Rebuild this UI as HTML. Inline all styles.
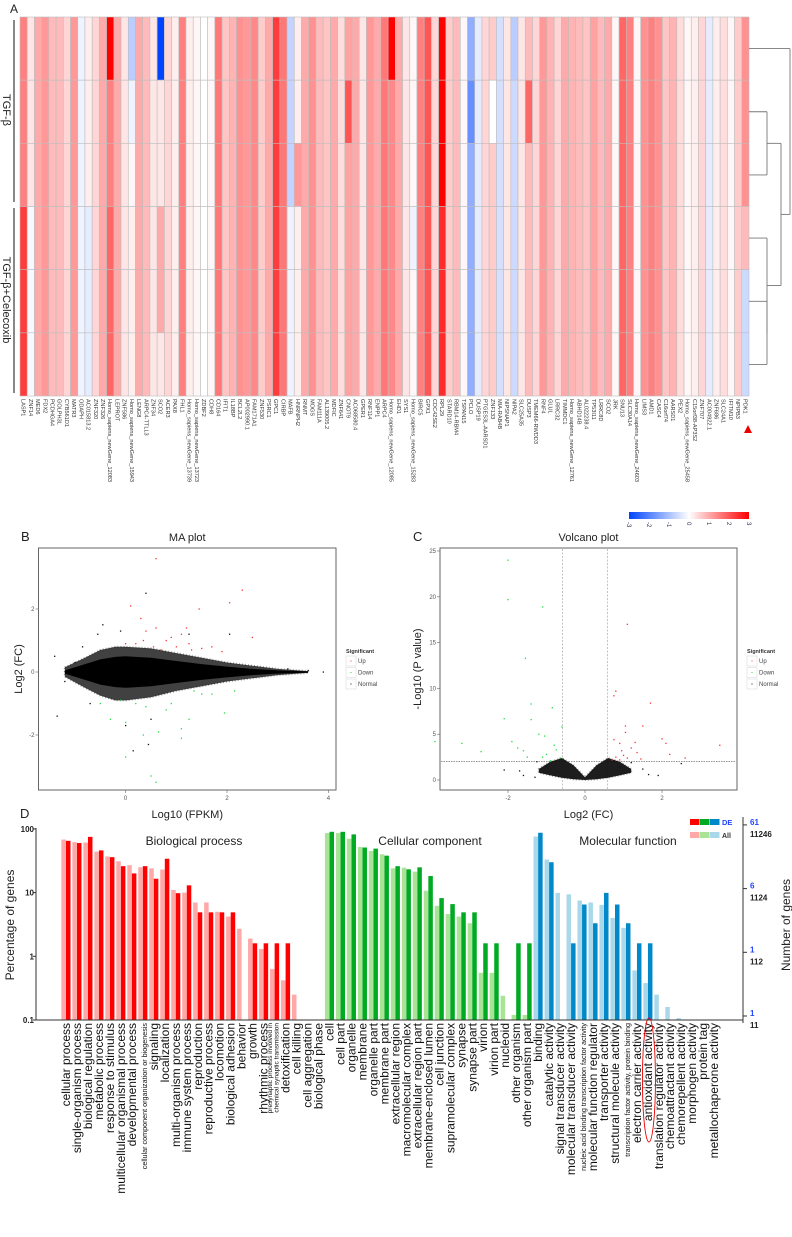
<!DOCTYPE html>
<html><head><meta charset="utf-8"><title>Figure</title>
<style>
html,body{margin:0;padding:0;background:#fff;}
svg{display:block;font-family:"Liberation Sans",sans-serif;}
</style></head>
<body>
<svg id="fig" width="792" height="1237" viewBox="0 0 792 1237" xmlns="http://www.w3.org/2000/svg">
<g id="pa"></g>
<g id="pb"></g>
<g id="pc"></g>
<g id="pd"></g>
</svg>
<script>
// ---------- Panel A data ----------
const geneLabels = ["LASP1","ZNF14","MED6","FDX2","PCDHGA4","GOLPH3L","CYB561D1","MATR3","ODAPH","AC015813.2","ZNF320","ZNF326","Homo_sapiens_newGene_12083","LEPROT","ZNF586","Homo_sapiens_newGene_15943","LENG8","ARPC4-TTLL3","ZNF34","SCO2","ACER3","PAX8","FHL1","Homo_sapiens_newGene_13739","Homo_sapiens_newGene_13723","ZDBF2","CDH8","CD164","IFIT1","IL18BP","BCL2L2","AP002990.1","FAM171A1","ZNF530","PSRC1","GPC1","CIRBP","MAFB","HNRNPH2","RNMT","MOGS","FAM111A","AL139005.2","MDFIC","ZNF641","CNOT9","AC068580.4","GPER1","RNF114","ENPP1","ARPC4","Homo_sapiens_newGene_12085","EHD1","SYS1","Homo_sapiens_newGene_15283","BIRC5","GPX1","CDC42SE2","RPL29","STARD10","RBM14-RBM4","TSPAN15","PCLO","DUSP19","PTGES3L-AARSD1","ZNF133","MIA-RAB4B","NIPSNAP1","NIPA2","SLC25A35","DUSP3","TMEM66-RWDD3","RNF4","GLUL","LRRC32","TIMMDC1","Homo_sapiens_newGene_12761","ABHD14B","AL022238.4","TP53I11","LRRC8D","SCO2","JRK","SNU13","SLC30A14","Homo_sapiens_newGene_24603","LIMS3","AMD1","CASC4","C16orf74","AARSD1","PEX2","Homo_sapiens_newGene_25458","C15orf38-AP3S2","ZNF707","AC004922.1","ZNF686","SLC24A1","IFITM10","NPIPB3","PDK1"];
const baseValues = [1.5,0.3,1.0,1.2,0.8,0.8,0.5,1.2,-0.2,0.2,0.5,1.0,1.5,1.0,0.3,0.2,1.0,0.8,0.3,0.3,0.5,0.2,1.5,0.2,0.1,0.0,0.1,1.6,0.7,0.9,1.3,1.2,1.4,0.6,1.0,2.3,1.6,-0.7,0.2,1.0,1.3,0.8,0.7,1.0,0.4,1.1,1.0,0.3,1.2,1.0,1.6,1.4,1.0,0.3,0.1,1.5,2.0,0.5,3.0,0.6,0.8,0.1,-1.3,-0.3,0.5,0.6,-0.5,0.3,-0.6,0.3,0.8,0.5,1.2,0.9,0.5,1.0,0.9,0.8,0.7,1.1,0.8,1.0,0.1,1.8,1.5,0.1,1.3,1.5,1.3,0.7,0.9,0.4,0.1,0.2,0.5,-0.3,0.2,0.4,0.1,0.6,1.3];
// overrides: [row, col, value]
const cellOverrides = [[3,0,2.3],[4,0,2.3],[5,0,2.3],[3,1,-0.1],[4,1,-0.1],[5,1,-0.1],[3,9,-0.3],[4,9,-0.3],[5,9,-0.3],
[0,12,3],[3,12,1.8],[4,12,1.8],[5,12,1.8],[0,15,-0.8],[1,15,-0.2],[2,15,0.1],[0,19,-3],[3,19,1.0],[4,19,1.0],
[3,37,-0.2],[4,37,-0.2],[5,37,-0.2],[2,38,1.2],[1,45,2.0],[0,51,3],[3,54,-0.2],
[3,58,2.5],[4,58,2.5],[5,58,2.5],[1,62,-1.8],[1,65,0],[0,68,-0.8],[1,70,1.8],
[3,100,0.8],[4,100,-0.6],[5,100,-0.6]];
const rowGroups = ["TGF-β","TGF-β+Celecoxib"];
const cbTicks = [-3,-2,-1,0,1,2,3];

// ---------- Panel B data (MA plot) ----------
const maUpX = [0.6,0.1,1.45,2.05,2.3,0.3,0.6,1.2,0.4,0.9,1.0,1.5,1.7,0.7,1.3,2.5,0.8,1.1,0.0,0.35,1.9,0.2,1.25,0.55];
const maUpY = [3.6,2.1,2.0,2.2,2.6,1.7,1.4,1.4,1.3,1.1,0.8,0.75,0.8,0.7,0.7,1.1,1.0,1.2,0.9,1.0,0.65,0.9,0.9,0.8];
const maDownX = [0.5,0.6,0.0,1.1,0.35,0.65,1.1,-0.3,0.0,1.95,1.25,0.9,1.5,1.7,-0.1,0.2,0.4,2.15,-0.5,0.8,1.35];
const maDownY = [-3.3,-3.5,-2.7,-2.1,-2.0,-1.9,-1.8,-1.5,-1.6,-1.3,-1.5,-1.0,-0.7,-0.7,-0.9,-1.0,-1.1,-0.6,-1.0,-1.2,-0.6];
const maNormX = [-1.4,-1.35,0.4,-0.45,-0.1,-0.85,-0.55,1.25,2.05,0.0,0.5,-0.7,3.9,3.6,3.2,2.9,-1.2,-1.0,0.15,0.45];
const maNormY = [0.5,-1.4,2.5,1.5,1.3,0.8,1.2,1.2,1.2,-1.7,-1.5,-1.0,0,0.05,0.1,-0.05,-0.3,0.3,-2.5,-2.3];
const maEnvX = [-1.2,-0.8,-0.5,-0.2,0,0.5,1,1.5,2,2.5,3,3.6];
const maEnvUp = [0.15,0.45,0.7,0.8,0.8,0.75,0.6,0.45,0.3,0.2,0.1,0.03];
const maEnvLo = [-0.15,-0.5,-0.75,-0.9,-0.9,-0.8,-0.6,-0.45,-0.3,-0.2,-0.1,-0.03];
const maCoreUp = [0.05,0.25,0.4,0.48,0.5,0.45,0.35,0.25,0.17,0.1,0.05,0.02];
const maXTicks = [0,2,4];
const maYTicks = [-2,0,2];

// ---------- Panel C data (Volcano) ----------
const vUpX = [1.1,0.8,0.75,1.7,1.05,1.5,1.05,2.0,3.5,2.1,1.3,0.9,0.75,1.2,0.95,1.35,0.8,1.1,2.2,2.6,0.7,1.0,1.45,0.9];
const vUpY = [17,9.7,9.2,8.4,5.9,5.9,5.2,4.5,3.8,4.0,4.1,4.0,4.4,3.5,3.2,3.0,2.5,2.4,2.8,2.4,2.2,2.7,2.3,2.2];
const vDownX = [-2.0,-2.0,-1.1,-1.55,-1.4,-0.85,-2.1,-1.4,-0.6,-1.2,-1.05,-3.9,-3.2,-1.9,-1.75,-2.7,-1.6,-0.8,-0.75,-1.0,-1.5,-0.9,-0.65,-1.1];
const vDownY = [24,19.7,18.9,13.3,8.3,7.9,6.7,6.6,5.8,5.0,4.8,4.2,4.0,4.2,3.5,3.1,3.2,3.8,3.3,2.8,2.5,2.1,2.4,2.5];
const vNormX = [-1.7,-1.6,-2.1,1.9,2.5,1.5,1.65,-1.3,-1.0,0.9,-1.25,1.2];
const vNormY = [1.0,0.5,1.1,0.5,1.8,1.2,0.6,0.3,1.5,1.4,2.0,1.9];
const vEnvX = [-1.2,-0.9,-0.6,-0.3,0,0.3,0.6,0.9,1.2];
const vEnvUp = [1.2,2.0,2.4,1.6,0.3,1.6,2.4,2.0,1.2];
const vEnvLo = [0.8,0.5,0.25,0.08,0,0.08,0.25,0.5,0.8];
const vXTicks = [-2,0,2];
const vYTicks = [0,5,10,15,20,25];
const vFcCut = 0.585, vPCut = 2;

// ---------- Panel D data (GO) ----------
const goCategories = ["cellular process","single-organism process","biological regulation","metabolic process","response to stimulus","multicellular organismal process","developmental process","cellular component organization or biogenesis","signaling","localization","multi-organism process","immune system process","reproduction","reproductive process","locomotion","biological adhesion","behavior","growth","rhythmic process","presynaptic process involved in|chemical synaptic transmission","detoxification","cell killing","cell aggregation","biological phase",
"cell","cell part","organelle","membrane","organelle part","membrane part","extracellular region","macromolecular complex","extracellular region part","membrane-enclosed lumen","cell junction","supramolecular complex","synapse","synapse part","virion","virion part","nucleoid","other organism","other organism part",
"binding","catalytic activity","signal transducer activity","molecular transducer activity","nucleic acid binding transcription factor activity","molecular function regulator","transporter activity","structural molecule activity","transcription factor activity, protein binding","electron carrier activity","antioxidant activity","translation regulator activity","chemoattractant activity","chemorepellent activity","morphogen activity","protein tag","metallochaperone activity"];
const goGroup = [0,0,0,0,0,0,0,0,0,0,0,0,0,0,0,0,0,0,0,0,0,0,0,0, 1,1,1,1,1,1,1,1,1,1,1,1,1,1,1,1,1,1,1, 2,2,2,2,2,2,2,2,2,2,2,2,2,2,2,2,2];
const goAll = [68,62,61,44,37,31,27,25,24,23,11,10,7,7,5,4.2,2.7,1.9,1.3,0.63,0.42,0.25,0,0,
86,86,70,52,45,40,24,24.6,21.3,10.7,6.2,4.6,4.2,3.3,0.55,0.55,0.24,0.12,0.12,
76,33,9.9,9.4,7.5,7.0,6.4,4.0,2.8,0.6,0.38,0.25,0.16,0.107,0,0,0];
const goDE = [65,60,75,46,36,26,20,26,16.5,34,9.8,13,4.9,4.9,4.9,4.9,0,1.6,1.6,1.6,1.6,0,0,0,
90,90,82,51,49,38,26,23.2,24.9,18.2,8.2,6.6,4.9,4.9,1.6,1.6,0,1.6,1.6,
87,30,0,1.6,6.5,3.3,9.9,6.5,3.3,1.6,1.6,0,0,0,0,0,0];
const goGroupTitles = ["Biological process","Cellular component","Molecular function"];
const goLeftTicks = ["0.1","1","10","100"];
const goRightDE = ["1","1","6","61"];
const goRightAll = ["11","112","1124","11246"];

const NS="http://www.w3.org/2000/svg";
function mk(parent, tag, attrs, text){
  const e=document.createElementNS(NS,tag);
  for(const k in attrs) e.setAttribute(k,attrs[k]);
  if(text!==undefined) e.textContent=text;
  parent.appendChild(e); return e;
}

// ===== Panel A =====
(function(){
  const g=document.getElementById('pa');
  const X0=20, X1=749, Y0=17, rowH=63.17, nRows=6;
  const n=geneLabels.length, cw=(X1-X0)/n;
  const bv=baseValues.slice(0,n);
  while(bv.length<n) bv.splice(bv.length-1,0,0.5);
  const vals=[];
  for(let r=0;r<nRows;r++){ vals.push(bv.slice()); }
  cellOverrides.forEach(o=>{ if(o[1]<n) vals[o[0]][o[1]]=o[2]; });
  function col(v){
    let t=Math.max(-1,Math.min(1,v/3));
    if(t>=0){const c=Math.round(255*(1-t));return `rgb(255,${c},${c})`;}
    const a=-t; return `rgb(${Math.round(255*(1-a))},${Math.round(255-(255-68)*a)},255)`;
  }
  let t=mk(g,'text',{x:10,y:13,'font-size':12,fill:'#222'},'A');
  
  
  for(let r=0;r<nRows;r++){
    for(let c=0;c<n;c++){
      const rc=mk(g,'rect',{x:X0+c*cw,y:Y0+r*rowH,width:cw,height:rowH,fill:col(vals[r][c]),stroke:'#bdbdbd','stroke-width':0.6});
      
      
    }
  }
  for(let c=0;c<n;c++){
    const x=X0+(c+0.5)*cw-2;
    const tx=mk(g,'text',{x:x,y:399,'font-size':5.6,fill:'#333',transform:`rotate(90 ${x} 399)`},geneLabels[c]);
    
    
  }
  const grp=[[20,202,110],[208,393,300]];
  grp.forEach((gg,i)=>{
    const l=mk(g,'line',{x1:14,y1:gg[0],x2:14,y2:gg[1],stroke:'#111','stroke-width':1});
    
    
    const tt=mk(g,'text',{x:gg[2],y:-3,'font-size':11,fill:'#222','text-anchor':'middle',transform:'rotate(90)'},rowGroups[i]);
    
    
  });
  const rc=r=>Y0+(r+0.5)*rowH;
  const m12=(rc(1)+rc(2))/2, m45=(rc(4)+rc(5))/2, m345=(rc(3)+m45)/2, mAll=(m12+m345)/2;
  const dl=[[749,rc(0),790,rc(0)],[749,rc(1),767,rc(1)],[749,rc(2),767,rc(2)],[767,rc(1),767,rc(2)],
    [767,m12,781,m12],
    [749,rc(3),767,rc(3)],[749,rc(4),767,rc(4)],[749,rc(5),767,rc(5)],[767,rc(4),767,rc(5)],
    [767,rc(3),767,m45],[767,m345,781,m345],
    [781,m12,781,m345],
    [781,mAll,790,mAll],[790,rc(0),790,mAll]];
  dl.forEach(d=>{
    const l=mk(g,'line',{x1:d[0],y1:d[1],x2:d[2],y2:d[3],stroke:'#777','stroke-width':0.9});
    
    
  });
  const tri=mk(g,'polygon',{points:'748,425 744,433 752,433',fill:'#e00'});
  
  
  const defs=mk(g,'defs',{});
  const lg=mk(defs,'linearGradient',{id:'cbg',x1:0,x2:1,y1:0,y2:0});
  mk(lg,'stop',{offset:'0','stop-color':'#0044ff'});
  mk(lg,'stop',{offset:'0.5','stop-color':'#ffffff'});
  mk(lg,'stop',{offset:'1','stop-color':'#ff0000'});
  const cb=mk(g,'rect',{x:629,y:512,width:120,height:7,fill:'url(#cbg)'});
  
  
  cbTicks.forEach(v=>{
    const x=629+(v+3)/6*120-2;
    const tx=mk(g,'text',{x:x,y:522,'font-size':6,fill:'#335',transform:`rotate(90 ${x} 522)`},String(v));
    
    
  });
})();

function scatterPanel(gid, o){
  const g=document.getElementById(gid);
  const sx=v=>o.x0+o.kx*v, sy=v=>o.y0-o.ky*v;
  let t=mk(g,'text',{x:o.lblX,y:541,'font-size':13,fill:'#222'},o.letter);
  
  
  t=mk(g,'text',{x:(o.bx0+o.bx1)/2,y:541,'font-size':11,fill:'#222','text-anchor':'middle'},o.title);
  
  
  const box=mk(g,'rect',{x:o.bx0,y:548,width:o.bx1-o.bx0,height:242,fill:'#fff',stroke:'#666','stroke-width':1});
  
  
  if(o.extra) o.extra(g,sx,sy);
  let p='';
  o.envX.forEach((v,i)=>{p+=(i?'L':'M')+sx(v).toFixed(1)+','+sy(o.envUp[i]).toFixed(1);});
  for(let i=o.envX.length-1;i>=0;i--) p+='L'+sx(o.envX[i]).toFixed(1)+','+sy(o.envLo[i]).toFixed(1);
  p+='Z';
  const env=mk(g,'path',{d:p,fill:'#111','fill-opacity':o.envOp,stroke:'#111','stroke-opacity':0.4,'stroke-width':2,'stroke-dasharray':'1,2'});
  
  
  if(o.coreUp){
    let q='';
    o.envX.forEach((v,i)=>{q+=(i?'L':'M')+sx(v).toFixed(1)+','+sy(o.coreUp[i]).toFixed(1);});
    for(let i=o.envX.length-1;i>=0;i--) q+='L'+sx(o.envX[i]).toFixed(1)+','+sy(-o.coreUp[i]).toFixed(1);
    const core=mk(g,'path',{d:q+'Z',fill:'#000'});
    
    
  }
  function pts(xs,ys,c,name){
    xs.forEach((v,i)=>{
      const r=mk(g,'rect',{x:sx(v)-0.6,y:sy(ys[i])-0.6,width:1.3,height:1.3,fill:c});
      
      
    });
  }
  pts(o.nX,o.nY,'#111','normal-point');
  pts(o.uX,o.uY,'#ff3030','up-point');
  pts(o.dX,o.dY,'#22dd44','down-point');
  o.xt.forEach(v=>{
    mk(g,'line',{x1:sx(v),y1:790,x2:sx(v),y2:793,stroke:'#666','stroke-width':0.6});
    const tx=mk(g,'text',{x:sx(v),y:800,'font-size':6,fill:'#555','text-anchor':'middle'},String(v));
    
    
  });
  o.yt.forEach(v=>{
    mk(g,'line',{x1:o.bx0-3,y1:sy(v),x2:o.bx0,y2:sy(v),stroke:'#666','stroke-width':0.6});
    const tx=mk(g,'text',{x:o.bx0-4,y:sy(v)+2,'font-size':6,fill:'#555','text-anchor':'end'},String(v));
    
    
  });
  t=mk(g,'text',{x:(o.bx0+o.bx1)/2,y:818,'font-size':11,fill:'#222','text-anchor':'middle'},o.xlab);
  
  
  t=mk(g,'text',{x:0,y:0,'font-size':11,fill:'#222','text-anchor':'middle',transform:`translate(${o.ylx},669) rotate(-90)`},o.ylab);
  
  
  const lx=o.legX;
  t=mk(g,'text',{x:lx,y:653,'font-size':5.5,'font-weight':'bold',fill:'#333'},'Significant');
  
  
  [['Up','#ff3030'],['Down','#22dd44'],['Normal','#111']].forEach((e,i)=>{
    const y=656+i*11.5;
    mk(g,'rect',{x:lx,y:y,width:10,height:10,fill:'#fff',stroke:'#ddd','stroke-width':0.6});
    mk(g,'rect',{x:lx+4.5,y:y+4.5,width:1,height:1,fill:e[1]});
    const tx=mk(g,'text',{x:lx+12,y:y+7,'font-size':6,fill:'#444'},e[0]);
    
    
  });
}

scatterPanel('pb',{letter:'B',lblX:21,title:'MA plot',bx0:38.5,bx1:336,x0:125.6,kx:50.7,y0:672,ky:31.5,
  envX:maEnvX,envUp:maEnvUp,envLo:maEnvLo,coreUp:maCoreUp,envOp:0.8,
  nX:maNormX,nY:maNormY,uX:maUpX,uY:maUpY,dX:maDownX,dY:maDownY,xt:maXTicks,yt:maYTicks,
  xlab:'Log10 (FPKM)',ylab:'Log2 (FC)',ylx:22,legX:346});

scatterPanel('pc',{letter:'C',lblX:413,title:'Volcano plot',bx0:440,bx1:737,x0:585,kx:38.5,y0:780,ky:9.16,
  envX:vEnvX,envUp:vEnvUp,envLo:vEnvLo,coreUp:null,envOp:0.95,
  nX:vNormX,nY:vNormY,uX:vUpX,uY:vUpY,dX:vDownX,dY:vDownY,xt:vXTicks,yt:vYTicks,
  xlab:'Log2 (FC)',ylab:'-Log10 (P value)',ylx:421,legX:747,
  extra:function(g,sx,sy){
    [-vFcCut,vFcCut].forEach(v=>{
      const l=mk(g,'line',{x1:sx(v),y1:549,x2:sx(v),y2:789,stroke:'#aaa','stroke-width':0.7,'stroke-dasharray':'2,1.5'});
      
      
    });
    const l=mk(g,'line',{x1:441,y1:sy(vPCut),x2:736,y2:sy(vPCut),stroke:'#555','stroke-width':0.7,'stroke-dasharray':'1.5,1'});
    
    
  }});

// ===== Panel D =====
(function(){
  const g=document.getElementById('pd');
  const base=1020, dec=63.7, XL=36, XR=743;
  const sy=v=>base-(Math.log10(v)+1)*dec;
  const cx=i=>66+i*10.98;
  const cols=[['#ffa8a8','#ff0000'],['#a8e396','#00aa22'],['#a8d8ea','#0088c8']];
  let t=mk(g,'text',{x:20,y:818,'font-size':13,fill:'#222'},'D');
  
  
  goCategories.forEach((c,i)=>{
    const gr=goGroup[i];
    if(goAll[i]>0.1){
      const y=sy(goAll[i]);
      const r=mk(g,'rect',{x:cx(i)-4.6,y:y,width:4.5,height:base-y,fill:cols[gr][0]});
      
      
    }
    if(goDE[i]>0.1){
      const y=sy(goDE[i]);
      const r=mk(g,'rect',{x:cx(i),y:y,width:4.5,height:base-y,fill:cols[gr][1]});
      
      
    }
    const x=cx(i)+4;
    const parts=c.split('|');
    const small=c.length>40;
    const fs=small?(parts.length>1?6.5:7.2):12;
    parts.forEach((p,k)=>{
      const xx=x-(parts.length-1-k)*6.5;
      const tx=mk(g,'text',{x:0,y:0,'font-size':fs,fill:'#111','text-anchor':'end',transform:`translate(${xx},1023) rotate(-90)`},p);
      
      
    });
  });
  let a=mk(g,'line',{x1:XL,y1:828,x2:XL,y2:base,stroke:'#333','stroke-width':1});
  
  
  a=mk(g,'line',{x1:XL,y1:base,x2:XR,y2:base,stroke:'#333','stroke-width':1});
  
  
  a=mk(g,'line',{x1:XR,y1:817,x2:XR,y2:base+3,stroke:'#333','stroke-width':1});
  
  
  goLeftTicks.forEach((s,i)=>{
    const y=base-i*dec;
    mk(g,'line',{x1:XL-3,y1:y,x2:XL,y2:y,stroke:'#333','stroke-width':1});
    const tx=mk(g,'text',{x:XL-2,y:y+3,'font-size':8,'font-weight':'bold',fill:'#222','text-anchor':'end'},s);
    
    
    mk(g,'line',{x1:XR,y1:y-4,x2:XR+4,y2:y-4,stroke:'#333','stroke-width':1});
    const t1=mk(g,'text',{x:750,y:y-4,'font-size':8,'font-weight':'bold',fill:'#2244ff'},goRightDE[i]);
    
    
    const t2=mk(g,'text',{x:750,y:y+8,'font-size':8,'font-weight':'bold',fill:'#222'},goRightAll[i]);
    
    
  });
  t=mk(g,'text',{x:0,y:0,'font-size':12,fill:'#222','text-anchor':'middle',transform:'translate(14,925) rotate(-90)'},'Percentage of genes');
  
  
  t=mk(g,'text',{x:0,y:0,'font-size':12,fill:'#222','text-anchor':'middle',transform:'translate(790,925) rotate(-90)'},'Number of genes');
  
  
  [[194],[430],[628]].forEach((p,i)=>{
    const tx=mk(g,'text',{x:p[0],y:845,'font-size':12,fill:'#222','text-anchor':'middle'},goGroupTitles[i]);
    
    
  });
  cols.forEach((c,i)=>{
    const r1=mk(g,'rect',{x:690+i*10,y:819,width:9.5,height:6,fill:c[1]});
    
    
    const r2=mk(g,'rect',{x:690+i*10,y:832,width:9.5,height:6,fill:c[0]});
    
    
  });
  t=mk(g,'text',{x:722,y:825,'font-size':7.5,'font-weight':'bold',fill:'#2244ff'},'DE');
  
  
  t=mk(g,'text',{x:722,y:838,'font-size':7,'font-weight':'bold',fill:'#333'},'All');
  
  
  const ai=goCategories.indexOf('antioxidant activity');
  const el=mk(g,'ellipse',{cx:cx(ai)+1,cy:1080,rx:6.5,ry:62,fill:'none',stroke:'#e00','stroke-width':0.9});
  
  
})();
</script>
</body></html>
